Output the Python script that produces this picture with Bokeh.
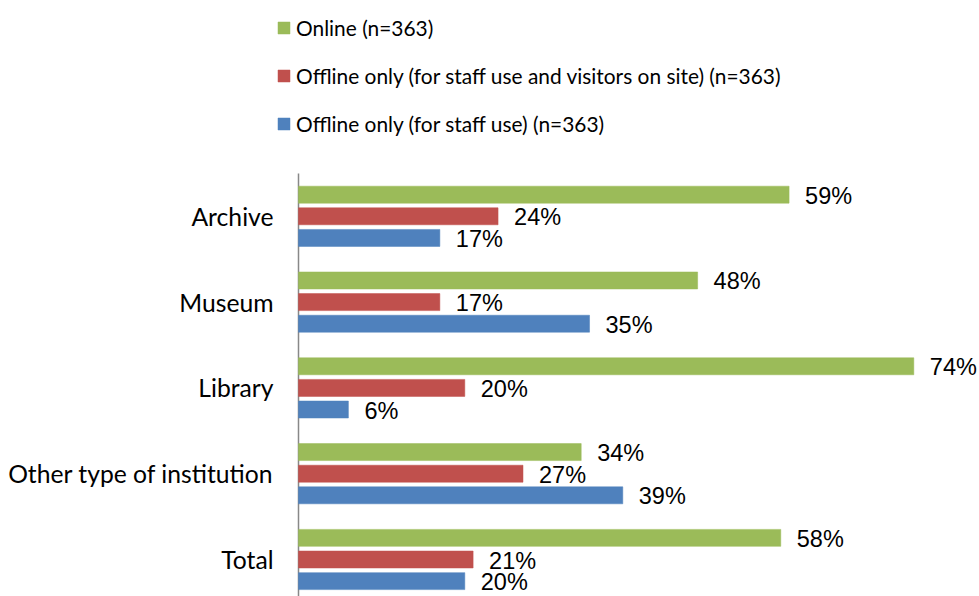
from bokeh.plotting import figure
from bokeh.models import Range1d, FixedTicker, Legend, LegendItem, ColumnDataSource
from bokeh.core.properties import value
from bokeh.embed import file_html
from bokeh.resources import INLINE

categories = ["Archive", "Museum", "Library", "Other type of institution", "Total"]
series_names = ["Online (n=363)",
                "Offline only (for staff use and visitors on site) (n=363)",
                "Offline only (for staff use) (n=363)"]
online = [59, 48, 74, 34, 58]
offline_visitors = [24, 17, 20, 27, 21]
offline_staff = [17, 35, 6, 39, 20]
colors = ["#9BBB59", "#C0504D", "#4F81BD"]

PX_PER_UNIT = 8.315
W, H = 979, 596
MIN_LEFT = 275
frame_w = W - MIN_LEFT
x_start = -23 / PX_PER_UNIT
x_end = x_start + frame_w / PX_PER_UNIT

pitch = 85.8
y_top = (0 - 215.8) / pitch
y_bot = (596 - 215.8) / pitch

p = figure(width=W, height=H, output_backend="svg", toolbar_location=None,
           x_range=Range1d(x_start, x_end), y_range=Range1d(y_bot, y_top),
           min_border_left=MIN_LEFT, min_border_right=0, min_border_top=0,
           min_border_bottom=0)
p.outline_line_color = None
p.xgrid.visible = False
p.ygrid.visible = False
p.xaxis.visible = False

yax = p.yaxis[0]
yax.ticker = FixedTicker(ticks=list(range(len(categories))))
yax.major_label_overrides = {i: c for i, c in enumerate(categories)}
yax.axis_line_color = None
yax.major_tick_line_color = None
yax.minor_tick_line_color = None
yax.major_tick_out = 0
yax.major_tick_in = 0
yax.minor_tick_out = 0
yax.minor_tick_in = 0
yax.major_label_standoff = 2
yax.major_label_text_font = "Lato"
yax.major_label_text_font_size = "24.7px"
yax.major_label_text_color = "#000000"

# axis line
p.segment(x0=[0], y0=[-0.5], x1=[0], y1=[y_bot], line_color="#888888", line_width=1.5)

offsets = [-0.252, 0.0, 0.252]
series = [online, offline_visitors, offline_staff]
items = []
idx = list(range(len(categories)))
for vals, off, col, name in zip(series, offsets, colors, series_names):
    src = ColumnDataSource(dict(y=[i + off for i in idx], v=vals,
                                lab=[f"{v}%" for v in vals]))
    r = p.hbar(y="y", right="v", left=0, height=0.198, source=src,
               fill_color=col, line_color=col, line_width=0.5)
    p.text(x="v", y="y", text="lab", source=src, x_offset=16, y_offset=1,
           text_baseline="middle", text_align="left",
           text_font=value("Liberation Sans"), text_font_size="23.5px",
           text_color="#000000")
    items.append(LegendItem(label=name, renderers=[r]))

LEG_H = 3 * 28 + 2 * 20
legend = Legend(items=items, location=(1, H - 13 - LEG_H), orientation="vertical",
                margin=0, padding=0, border_line_color=None,
                background_fill_alpha=0, glyph_width=15, glyph_height=15,
                label_standoff=5, label_height=28, spacing=20,
                label_text_font="Lato", label_text_font_size="20.9px",
                label_text_color="#000000")
p.add_layout(legend, "center")

open("out.html", "w").write(file_html(p, INLINE))
